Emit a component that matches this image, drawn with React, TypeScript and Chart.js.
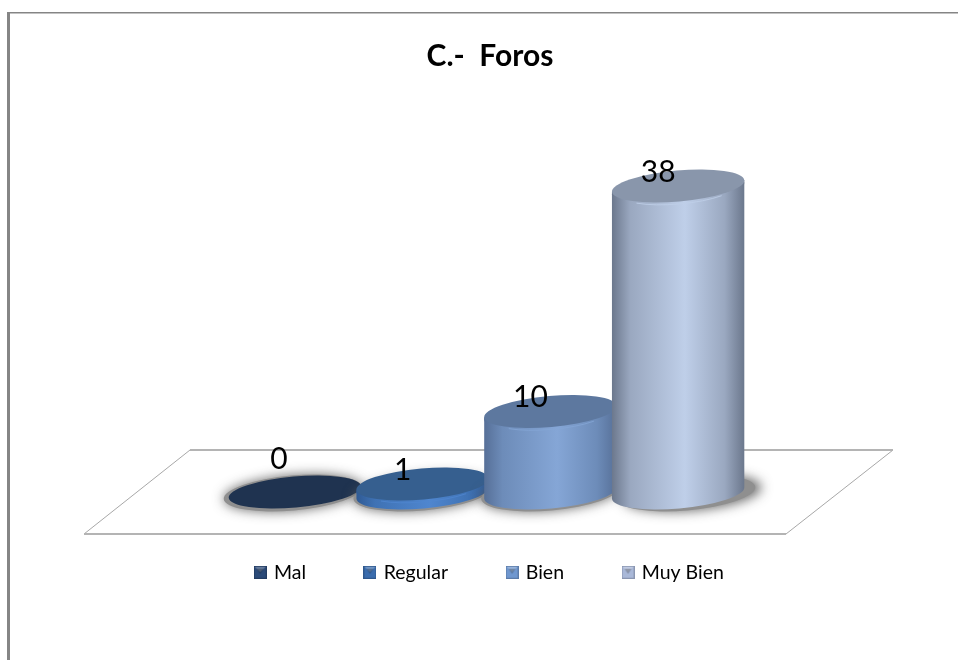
import React, { useEffect, useRef } from "react";
import { Chart, registerables } from "chart.js";

Chart.register(...registerables);

const titleText = "C.-  Foros";
const categories = ["Mal", "Regular", "Bien", "Muy Bien"];
const values = [0, 1, 10, 38];
const capColors = ["#1f3350", "#365f8f", "#5d789f", "#8996ab"];
const edgeColors = ["#1f3350", "#2f5a94", "#566f97", "#6b778c"];
const shoulderColors = ["#1f3350", "#3f72b4", "#6d8cb9", "#9aa8c0"];
const midColors = ["#1f3350", "#4f86cf", "#85a6d6", "#bfcfe9"];
const swatchColors = ["#2b4a78", "#3a6cad", "#6f97cf", "#a9b8d8"];
const FONT = "Lato, 'Open Sans', sans-serif";

function makeSwatch(i: number): HTMLCanvasElement {
  const c = document.createElement("canvas");
  c.width = 13;
  c.height = 13;
  const g = c.getContext("2d")!;
  g.fillStyle = swatchColors[i];
  g.fillRect(0, 0, 13, 13);
  g.fillStyle = "rgba(255,255,255,0.28)";
  g.beginPath();
  g.moveTo(1, 1);
  g.lineTo(12, 1);
  g.lineTo(6.5, 6.5);
  g.closePath();
  g.fill();
  g.fillStyle = "rgba(0,0,0,0.25)";
  g.beginPath();
  g.moveTo(3, 3);
  g.lineTo(10, 3);
  g.lineTo(6.5, 8);
  g.closePath();
  g.fill();
  g.strokeStyle = "rgba(0,0,0,0.18)";
  g.lineWidth = 1;
  g.strokeRect(0.5, 0.5, 12, 12);
  return c;
}

const TILT = (-5 * Math.PI) / 180;
const RY = 15.5;

function ellipse(ctx: CanvasRenderingContext2D, cx: number, cy: number, rx: number, ry: number) {
  ctx.beginPath();
  ctx.ellipse(cx, cy, rx, ry, TILT, 0, Math.PI * 2);
}

const floorPlugin = {
  id: "floorPlane",
  beforeDatasetsDraw(chart: any) {
    const { ctx, chartArea, scales } = chart;
    const base = scales.y.getPixelForValue(0);
    const back = base - 42;
    const front = base + 42;
    const backL = chartArea.left - 41;
    const backR = chartArea.right + 151;
    const frontL = chartArea.left - 147;
    const frontR = chartArea.right + 44;
    ctx.save();
    ctx.strokeStyle = "#a8a8a8";
    ctx.lineWidth = 1;
    ctx.beginPath();
    ctx.moveTo(frontL, front);
    ctx.lineTo(backL, back);
    ctx.moveTo(frontR, front);
    ctx.lineTo(backR, back);
    ctx.stroke();
    ctx.strokeStyle = "#b4b4b4";
    ctx.lineWidth = 2;
    ctx.beginPath();
    ctx.moveTo(backL, back);
    ctx.lineTo(backR, back);
    ctx.moveTo(frontL, front);
    ctx.lineTo(frontR, front);
    ctx.stroke();
    ctx.restore();
  },
};

const cylinderPlugin = {
  id: "cylinders",
  afterDatasetsDraw(chart: any) {
    const { ctx } = chart;
    const meta = chart.getDatasetMeta(0);
    meta.data.forEach((bar: any, i: number) => {
      const cx = bar.x;
      const top = bar.y;
      const base = bar.base + 1;
      const rx = bar.width * 0.52;
      const dx = rx * Math.cos(TILT);
      const dy = rx * Math.sin(TILT);
      const grad = ctx.createLinearGradient(cx - rx, 0, cx + rx, 0);
      grad.addColorStop(0, edgeColors[i]);
      grad.addColorStop(0.14, shoulderColors[i]);
      grad.addColorStop(0.55, midColors[i]);
      grad.addColorStop(0.85, shoulderColors[i]);
      grad.addColorStop(1, edgeColors[i]);

      ctx.save();
      ctx.shadowColor = "rgba(90,90,90,0.9)";
      ctx.shadowBlur = 12;
      ctx.shadowOffsetX = i === 3 ? 6 : 0;
      ctx.fillStyle = "#8f8f8f";
      ellipse(ctx, cx + (i === 3 ? 8 : i === 0 ? -2 : 0), base, rx + 3, RY + 2);
      ctx.fill();
      ctx.restore();

      ctx.save();
      if (values[i] > 0) {
        ctx.fillStyle = grad;
        ctx.beginPath();
        ctx.ellipse(cx, base, rx, RY, TILT, 0, Math.PI);
        ctx.lineTo(cx - dx, top - dy);
        ctx.lineTo(cx + dx, top + dy);
        ctx.closePath();
        ctx.fill();
        ellipse(ctx, cx, top + 2.5, rx, RY);
        ctx.fill();
        ctx.strokeStyle = midColors[i];
        ctx.lineWidth = 1;
        ctx.globalAlpha = 0.8;
        ctx.beginPath();
        ctx.ellipse(cx, top + 2.5, rx - 6, RY, TILT, 0.25 * Math.PI, 0.75 * Math.PI);
        ctx.stroke();
        ctx.globalAlpha = 1;
      }
      ctx.fillStyle = capColors[i];
      ellipse(ctx, cx, top, rx, RY);
      ctx.fill();
      ctx.restore();
    });
  },
  afterDraw(chart: any) {
    const { ctx } = chart;
    const meta = chart.getDatasetMeta(0);
    ctx.save();
    ctx.fillStyle = "#000000";
    ctx.font = `30px ${FONT}`;
    ctx.textAlign = "center";
    ctx.textBaseline = "middle";
    meta.data.forEach((bar: any, i: number) => {
      const offX = i === 0 ? -16 : -20;
      const offY = i === 0 ? -33 : -14;
      ctx.fillText(String(values[i]), bar.x + offX, bar.y + offY);
    });
    ctx.restore();
  },
};

const framePlugin = {
  id: "frame",
  beforeDraw(chart: any) {
    const { ctx, width, height } = chart;
    ctx.save();
    ctx.fillStyle = "#ffffff";
    ctx.fillRect(0, 0, width, height);
    ctx.fillStyle = "#858585";
    ctx.fillRect(7, 12, 3, height - 12);
    ctx.fillRect(7, 12, width - 7, 1.5);
    ctx.restore();
  },
};

export default function App() {
  const ref = useRef<HTMLCanvasElement>(null);
  useEffect(() => {
    const chart = new Chart(ref.current!, {
      type: "bar",
      data: {
        labels: categories,
        datasets: [
          {
            label: "Foros",
            data: values,
            backgroundColor: "rgba(0,0,0,0)",
            borderWidth: 0,
            barPercentage: 1,
            categoryPercentage: 1,
          },
        ],
      },
      plugins: [framePlugin, floorPlugin, cylinderPlugin],
      options: {
        responsive: false,
        animation: false,
        events: [],
        layout: { padding: { left: 22, right: 0, top: 0, bottom: 68 }, autoPadding: false },
        scales: {
          x: {
            type: "category",
            grid: { display: false },
            border: { display: false },
            ticks: { display: false },
            afterFit: (s: any) => {
              s.height = 10.5;
            },
          },
          y: {
            min: 0,
            max: 38,
            position: "left",
            grid: { display: false },
            border: { display: false },
            ticks: { display: false },
            afterFit: (s: any) => {
              s.width = 209;
            },
          },
          yr: {
            min: 0,
            max: 38,
            position: "right",
            grid: { display: false },
            border: { display: false },
            ticks: { display: false },
            afterFit: (s: any) => {
              s.width = 216;
            },
          },
        },
        plugins: {
          tooltip: { enabled: false },
          title: {
            display: true,
            text: titleText,
            color: "#000000",
            font: { family: FONT, size: 30, weight: "bold", lineHeight: 1.2 },
            padding: { top: 38, bottom: 112 },
          },
          legend: {
            display: true,
            position: "bottom",
            labels: {
              usePointStyle: true,
              boxWidth: 8,
              padding: 60,
              color: "#111111",
              font: { family: FONT, size: 19.5 },
              generateLabels: () =>
                categories.map((text, i) => ({
                  text,
                  pointStyle: makeSwatch(i),
                  fillStyle: swatchColors[i],
                  strokeStyle: edgeColors[i],
                  lineWidth: 0,
                  hidden: false,
                  index: i,
                })),
            },
          },
        },
      },
    } as any);
    return () => chart.destroy();
  }, []);
  return (
    <div style={{ position: "absolute", left: 0, top: 0, width: 958, height: 660 }}>
      <canvas ref={ref} width={958} height={660} style={{ display: "block" }} />
    </div>
  );
}
